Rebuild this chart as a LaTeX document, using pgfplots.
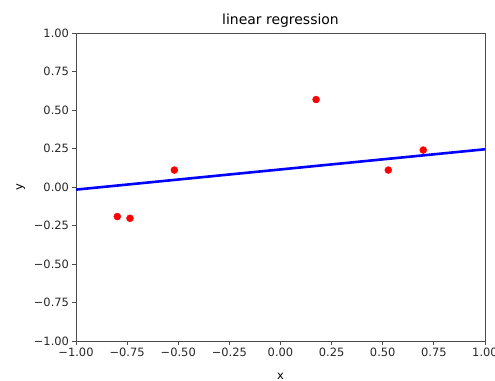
\documentclass[border=0pt]{standalone}
\usepackage{pgfplots}
\pgfplotsset{compat=1.18}
\usepackage{fontspec}
\setmainfont{DejaVu Sans}
\begin{document}
\begin{tikzpicture}[x=1bp,y=1bp]
\begin{axis}[
  scale only axis,
  width=409bp, height=308bp,
  xmin=-1, xmax=1, ymin=-1, ymax=1,
  xtick={-1,-0.75,-0.5,-0.25,0,0.25,0.5,0.75,1},
  ytick={-1,-0.75,-0.5,-0.25,0,0.25,0.5,0.75,1},
  xticklabels={−1.00,−0.75,−0.50,−0.25,0.00,0.25,0.50,0.75,1.00},
  yticklabels={−1.00,−0.75,−0.50,−0.25,0.00,0.25,0.50,0.75,1.00},
  tick label style={font=\fontsize{11.5}{13}\selectfont, text=black!85},
  tick align=outside, tick pos=left,
  major tick length=3.5bp,
  axis line style={black!70, line width=0.8bp},
  every tick/.style={black!70, line width=0.8bp},
  title={linear regression},
  title style={font=\fontsize{14}{16}\selectfont, yshift=-4bp},
  xlabel={x}, ylabel={y},
  label style={font=\fontsize{11.5}{13}\selectfont},
  xlabel style={yshift=-10bp},
  ylabel style={yshift=2bp},
]
\addplot[blue, line width=2.6bp] coordinates {(-1,-0.017) (1,0.245)};
\addplot[only marks, mark=*, mark size=3.5bp, red, mark options={draw=red, fill=red}] coordinates {
(-0.798,-0.192) (-0.736,-0.203) (-0.519,0.110) (0.174,0.568) (0.527,0.110) (0.698,0.240)};
\end{axis}
\pgfresetboundingbox
\path ([xshift=-76bp,yshift=-40bp]current axis.south west) rectangle ([xshift=10bp,yshift=33bp]current axis.north east);
\end{tikzpicture}
\end{document}
